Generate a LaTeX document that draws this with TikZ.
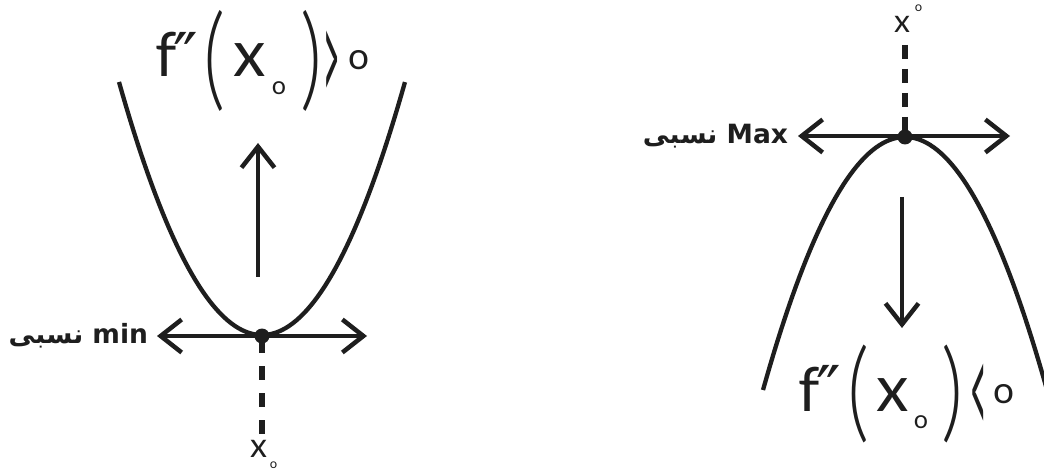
\documentclass[tikz,border=0pt]{standalone}
\usepackage{fontspec}
\usepackage{graphicx}
\usetikzlibrary{arrows.meta}
\setmainfont{Lato}
\newfontfamily\lightf{Lato Light}
\newfontfamily\primef{DejaVu Sans}
\newfontfamily\arabicfont[Script=Arabic]{DejaVu Sans}
\TeXXeTstate=1
\definecolor{ink}{HTML}{1E1E1E}
\begin{document}
\begin{tikzpicture}[x=1pt,y=-1pt,
  glyph/.style={inner sep=0pt, outer sep=0pt, text=ink},
  curve/.style={line width=4.3pt, draw=ink},
  arr/.style={line width=4.5pt, draw=ink, -{Straight Barb[length=21pt,width=33pt]}},
  dbl/.style={line width=4.5pt, draw=ink, {Straight Barb[length=21pt,width=33pt]}-{Straight Barb[length=21pt,width=33pt]}},
  dashline/.style={line width=5.5pt, draw=ink},
  dot/.style={circle, fill=ink, inner sep=0pt, minimum size=15pt},
  lbl/.style={inner sep=0pt, outer sep=0pt, text=ink, font=\arabicfont\fontsize{26.5}{26.5}\bfseries}
]
\useasboundingbox (0,0) rectangle (1044,470);
\fill[white] (0,0) rectangle (1044,470);

% ---------- left: minimum ----------
\draw[curve] plot[domain=-1:1, samples=80] ({262+143*\x},{335-253*(\x)^2});
\coordinate (lt1) at (157,336);
\coordinate (rt1) at (367,336);
\coordinate (ua1) at (258,277);
\coordinate (ua2) at (258,143);
\coordinate (ds1) at (262,339);
\coordinate (de1) at (262,434);
\draw[dashline, dash pattern=on 14pt off 13pt] (ds1) -- (de1);
\draw[dbl] (lt1) -- (rt1);
\draw[arr] (ua1) -- (ua2);
\node[dot] (v1) at (262,336) {};
\node[lbl, anchor=base east] (lmin) at (148,343) {\beginR\beginL min\endL{} نسبی\endR};
\node[glyph, anchor=base, font=\fontsize{34}{34}\selectfont] (xl) at (258.5,457) {x};
\node[glyph, font=\fontsize{13}{13}\selectfont] (xls) at (273.5,465) {o};

% top formula
\node[glyph, anchor=base, font=\fontsize{61}{61}\selectfont] (f1) at (166,77) {f};
\node[glyph, anchor=north, font=\primef\fontsize{66}{66}\selectfont] (p1) at (186,32) {″};
\node[glyph] (lp1) at (215,60.5) {\resizebox*{22pt}{101pt}{\lightf (}};
\node[glyph, anchor=base, font=\fontsize{65}{65}\selectfont] (x1) at (250,77) {x};
\node[glyph, font=\fontsize{25}{25}\selectfont] (s1) at (279,88.5) {o};
\node[glyph] (rp1) at (312,60.5) {\resizebox*{22pt}{101pt}{\lightf )}};
\node[glyph, anchor=north] (gt) at (331.5,31) {\scalebox{0.42}[1.95]{\fontsize{67}{67}\selectfont >}};
\node[glyph, font=\fontsize{37}{37}\selectfont] (z1) at (359,60) {o};

% ---------- right: maximum ----------
\begin{scope}
\clip (0,0) rectangle (1044,470);
\draw[curve] plot[domain=-1:1.02, samples=80] ({905+142*\x},{137+253*(\x)^2});
\end{scope}
\coordinate (lt2) at (798,136);
\coordinate (rt2) at (1010,136);
\coordinate (da1) at (902,197);
\coordinate (da2) at (902,328);
\coordinate (ds2) at (905,45);
\coordinate (de2) at (905,137);
\draw[dashline, dash pattern=on 14pt off 10pt] (ds2) -- (de2);
\draw[dbl] (lt2) -- (rt2);
\draw[arr] (da1) -- (da2);
\node[dot] (v2) at (905,137) {};
\node[lbl, anchor=base east] (lmax) at (788,144) {\beginR\beginL Max\endL{} نسبی\endR};
\node[glyph, anchor=base, font=\fontsize{32}{32}\selectfont] (xr) at (902,33) {x};
\node[glyph, font=\fontsize{13}{13}\selectfont] (xrs) at (918.5,8.5) {o};

% bottom formula
\node[glyph, anchor=base, font=\fontsize{61}{61}\selectfont] (f2) at (809,411) {f};
\node[glyph, anchor=north, font=\primef\fontsize{66}{66}\selectfont] (p2) at (829,365) {″};
\node[glyph] (lp2) at (858,394) {\resizebox*{22pt}{98pt}{\lightf (}};
\node[glyph, anchor=base, font=\fontsize{65}{65}\selectfont] (x2) at (893,411) {x};
\node[glyph, font=\fontsize{25}{25}\selectfont] (s2) at (921,422.5) {o};
\node[glyph] (rp2) at (952.5,394) {\resizebox*{22pt}{98pt}{\lightf )}};
\node[glyph, anchor=north] (lt) at (979,364) {\scalebox{0.42}[1.95]{\fontsize{67}{67}\selectfont <}};
\node[glyph, font=\fontsize{37}{37}\selectfont] (z2) at (1004,394) {o};
\end{tikzpicture}
\end{document}
